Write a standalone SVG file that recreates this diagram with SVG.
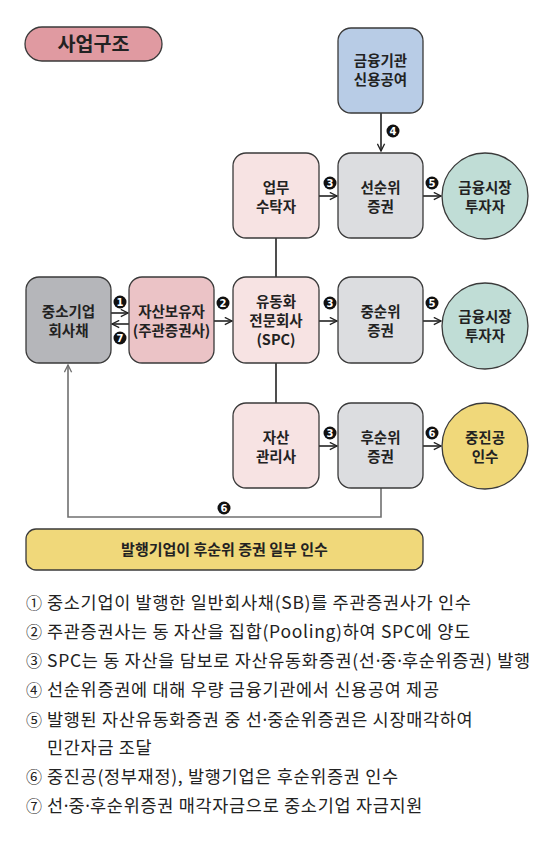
<svg xmlns="http://www.w3.org/2000/svg" width="552" height="843" viewBox="0 0 552 843">
<style>
  text { font-family: "Noto Sans CJK KR", "Noto Sans", sans-serif; fill: #222; }
  .box { stroke: #3a3a3a; stroke-width: 1.3; }
  .nl { font-size: 14.5px; font-weight: 700; text-anchor: middle; }
  .lg { font-size: 17.5px; letter-spacing: 0.7px; }
  .cd { font-size: 16px; letter-spacing: 0; }
  .dt { font-family: "Noto Sans", sans-serif; letter-spacing: 0; }
  .ln { stroke: #222; stroke-width: 1.6; fill: none; }
  .gl { stroke: #707070; stroke-width: 1.6; fill: none; }
  .num circle { fill: #111; }
  .num text { fill: #fff; font-family: "DejaVu Sans", sans-serif; font-size: 10px; font-weight: 700; text-anchor: middle; }
</style>
<defs>
  <marker id="ah" viewBox="0 0 10 10" refX="9" refY="5" markerWidth="9" markerHeight="9" markerUnits="userSpaceOnUse" orient="auto">
    <path d="M1,1 L9,5 L1,9" fill="none" stroke="#222" stroke-width="1.5"/>
  </marker>
  <marker id="ahg" viewBox="0 0 10 10" refX="9" refY="5" markerWidth="9" markerHeight="9" markerUnits="userSpaceOnUse" orient="auto">
    <path d="M1,1 L9,5 L1,9" fill="none" stroke="#707070" stroke-width="1.5"/>
  </marker>
</defs>
<rect width="552" height="843" fill="#fff"/>

<g id="title">
  <rect x="25" y="27" width="137" height="34" rx="17" fill="#e09aa1" class="box"/>
  <text x="93.5" y="51" font-size="19.5" font-weight="700" text-anchor="middle">사업구조</text>
</g>

<g id="connectors">
  <line class="ln" x1="381" y1="113" x2="381" y2="151" marker-end="url(#ah)"/>
  <line class="ln" x1="276" y1="238" x2="276" y2="277"/>
  <line class="ln" x1="276" y1="363" x2="276" y2="403"/>
  <line class="ln" x1="319" y1="196" x2="337" y2="196" marker-end="url(#ah)"/>
  <line class="ln" x1="423" y1="196" x2="441" y2="196" marker-end="url(#ah)"/>
  <line class="ln" x1="111" y1="313" x2="128" y2="313" marker-end="url(#ah)"/>
  <line class="ln" x1="129" y1="324" x2="112" y2="324" marker-end="url(#ah)"/>
  <line class="ln" x1="214" y1="321" x2="232" y2="321" marker-end="url(#ah)"/>
  <line class="ln" x1="319" y1="321" x2="337" y2="321" marker-end="url(#ah)"/>
  <line class="ln" x1="423" y1="321" x2="441" y2="321" marker-end="url(#ah)"/>
  <line class="ln" x1="319" y1="446" x2="337" y2="446" marker-end="url(#ah)"/>
  <line class="ln" x1="423" y1="446" x2="441" y2="446" marker-end="url(#ah)"/>
  <polyline class="gl" points="381,488 381,517 68,517 68,365" marker-end="url(#ahg)"/>
  <g class="num">
    <circle cx="393" cy="131" r="6.5"/><text x="393" y="134.6">4</text>
    <circle cx="330" cy="183" r="6.5"/><text x="330" y="186.6">3</text>
    <circle cx="432" cy="183" r="6.5"/><text x="432" y="186.6">5</text>
    <circle cx="120" cy="302" r="6.5"/><text x="120" y="305.6">1</text>
    <circle cx="120" cy="338" r="6.5"/><text x="120" y="341.6">7</text>
    <circle cx="223" cy="303" r="6.5"/><text x="223" y="306.6">2</text>
    <circle cx="330" cy="303" r="6.5"/><text x="330" y="306.6">3</text>
    <circle cx="432" cy="303" r="6.5"/><text x="432" y="306.6">5</text>
    <circle cx="330" cy="433" r="6.5"/><text x="330" y="436.6">3</text>
    <circle cx="432" cy="433" r="6.5"/><text x="432" y="436.6">6</text>
    <circle cx="224" cy="508" r="6.5"/><text x="224" y="511.6">6</text>
  </g>
</g>

<g id="n-bank">
  <rect class="box" x="338" y="28" width="85" height="85" rx="13" fill="#b8cce6"/>
  <text class="nl" x="380.5" y="66">금융기관</text>
  <text class="nl" x="380.5" y="85">신용공여</text>
</g>
<g id="n-trustee">
  <rect class="box" x="233" y="153" width="86" height="85" rx="13" fill="#f7e3e3"/>
  <text class="nl" x="276" y="193">업무</text>
  <text class="nl" x="276" y="212">수탁자</text>
</g>
<g id="n-senior">
  <rect class="box" x="338" y="153" width="85" height="85" rx="13" fill="#dcdde0"/>
  <text class="nl" x="380.5" y="193">선순위</text>
  <text class="nl" x="380.5" y="212">증권</text>
</g>
<g id="n-inv1">
  <circle class="box" cx="485" cy="196" r="43" fill="#c0ddd6"/>
  <text class="nl" x="485" y="193">금융시장</text>
  <text class="nl" x="485" y="212">투자자</text>
</g>
<g id="n-sme">
  <rect class="box" x="26" y="277" width="85" height="86" rx="13" fill="#b5b6ba"/>
  <text class="nl" x="68.5" y="317">중소기업</text>
  <text class="nl" x="68.5" y="336">회사채</text>
</g>
<g id="n-holder">
  <rect class="box" x="129" y="277" width="85" height="86" rx="13" fill="#ebc3c6"/>
  <text class="nl" x="171.5" y="317">자산보유자</text>
  <text class="nl" x="171.5" y="336" font-size="13.5">(주관증권사)</text>
</g>
<g id="n-spc">
  <rect class="box" x="233" y="277" width="86" height="86" rx="13" fill="#f7e3e3"/>
  <text class="nl" x="276" y="307">유동화</text>
  <text class="nl" x="276" y="326">전문회사</text>
  <text class="nl" x="276" y="345">(SPC)</text>
</g>
<g id="n-mezz">
  <rect class="box" x="338" y="277" width="85" height="86" rx="13" fill="#dcdde0"/>
  <text class="nl" x="380.5" y="317">중순위</text>
  <text class="nl" x="380.5" y="336">증권</text>
</g>
<g id="n-inv2">
  <circle class="box" cx="485" cy="326" r="43" fill="#c0ddd6"/>
  <text class="nl" x="485" y="322">금융시장</text>
  <text class="nl" x="485" y="341">투자자</text>
</g>
<g id="n-manager">
  <rect class="box" x="233" y="403" width="86" height="85" rx="13" fill="#f7e3e3"/>
  <text class="nl" x="276" y="443">자산</text>
  <text class="nl" x="276" y="462">관리사</text>
</g>
<g id="n-junior">
  <rect class="box" x="338" y="403" width="85" height="85" rx="13" fill="#dcdde0"/>
  <text class="nl" x="380.5" y="443">후순위</text>
  <text class="nl" x="380.5" y="462">증권</text>
</g>
<g id="n-kosmes">
  <circle class="box" cx="485" cy="446" r="43" fill="#f0d87a"/>
  <text class="nl" x="485" y="443">중진공</text>
  <text class="nl" x="485" y="462">인수</text>
</g>
<g id="n-banner">
  <rect class="box" x="26" y="529" width="397" height="41" rx="10" fill="#f0d87a"/>
  <text x="224.5" y="555" font-size="15" font-weight="700" text-anchor="middle">발행기업이 후순위 증권 일부 인수</text>
</g>

<g id="legend">
  <text class="lg" y="609"><tspan class="cd" x="26">①</tspan><tspan x="47">중소기업이 발행한 일반회사채(SB)를 주관증권사가 인수</tspan></text>
  <text class="lg" y="638"><tspan class="cd" x="26">②</tspan><tspan x="47">주관증권사는 동 자산을 집합(Pooling)하여 SPC에 양도</tspan></text>
  <text class="lg" y="667"><tspan class="cd" x="26">③</tspan><tspan x="47">SPC는 동 자산을 담보로 자산유동화증권(선<tspan class="dt">·</tspan>중<tspan class="dt">·</tspan>후순위증권) 발행</tspan></text>
  <text class="lg" y="696"><tspan class="cd" x="26">④</tspan><tspan x="47">선순위증권에 대해 우량 금융기관에서 신용공여 제공</tspan></text>
  <text class="lg" y="726"><tspan class="cd" x="26">⑤</tspan><tspan x="47">발행된 자산유동화증권 중 선<tspan class="dt">·</tspan>중순위증권은 시장매각하여</tspan></text>
  <text class="lg" x="47" y="754">민간자금 조달</text>
  <text class="lg" y="783"><tspan class="cd" x="26">⑥</tspan><tspan x="47">중진공(정부재정), 발행기업은 후순위증권 인수</tspan></text>
  <text class="lg" y="812"><tspan class="cd" x="26">⑦</tspan><tspan x="47">선<tspan class="dt">·</tspan>중<tspan class="dt">·</tspan>후순위증권 매각자금으로 중소기업 자금지원</tspan></text>
</g>
</svg>
